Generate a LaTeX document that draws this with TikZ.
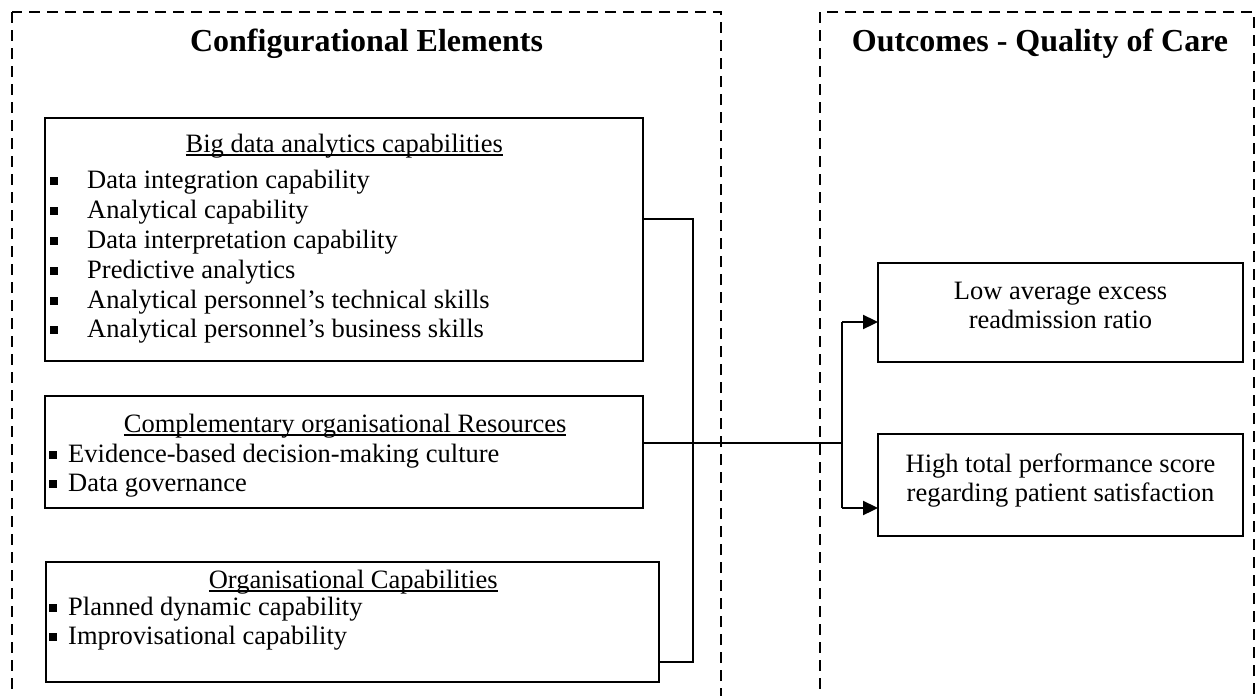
\documentclass[tikz,border=0pt]{standalone}
\usepackage{fontspec}
\setmainfont{Liberation Serif}
\usetikzlibrary{arrows.meta}

% underlined heading, bullet line
\newcommand{\uhd}[1]{\leavevmode\setbox0\hbox{#1}\rlap{\rule[-3.5pt]{\wd0}{1.6pt}}\box0}
\newcommand{\bul}[2]{\noindent\makebox[#1][l]{\rule[3.5pt]{8pt}{8pt}}#2\par}

\tikzset{
  dashbox/.style={draw, line width=2.6pt, dash pattern=on 11pt off 7pt},
  ebox/.style={draw, line width=2.5pt, inner sep=0pt, outer sep=0pt, anchor=north west},
  txt/.style={inner sep=0pt, font=\fontsize{26.5}{29}\selectfont},
  ttl/.style={inner sep=0pt, font=\fontsize{32}{36}\selectfont\bfseries},
  link/.style={line width=2.3pt},
  arr/.style={link, -{Triangle[length=15pt,width=14pt]}}
}

\begin{document}
\begin{tikzpicture}[x=1pt,y=-1pt]
\useasboundingbox (0,0) rectangle (1256,696);
\fill[white] (0,0) rectangle (1256,696);

% the two dashed frames, open below
\draw[dashbox] (12,12) rectangle (721,712);
\draw[dashbox] (820,12) rectangle (1254,712);

\node[ttl, anchor=base] (cfg) at (366.5,51) {Configurational Elements};
\node[ttl, anchor=base] (qoc) at (1040,51) {Outcomes - Quality of Care};

% boxes
\node[ebox, minimum width=598pt, minimum height=243pt] (bda) at (45,118) {};
\node[ebox, minimum width=598pt, minimum height=112pt] (cor) at (45,396) {};
\node[ebox, minimum width=613pt, minimum height=120pt] (org) at (46,562) {};
\node[ebox, minimum width=365pt, minimum height=99pt] (low) at (878,263) {};
\node[ebox, minimum width=365pt, minimum height=102pt] (high) at (878,434) {};

% box texts
\node[txt, anchor=base west] (bdaT) at (50,152) {\parbox[t]{588pt}{%
  \fontsize{26.5}{29.8}\selectfont
  {\centering\uhd{Big data analytics capabilities}\par}\vspace{7pt}
  \bul{37pt}{Data integration capability}
  \bul{37pt}{Analytical capability}
  \bul{37pt}{Data interpretation capability}
  \bul{37pt}{Predictive analytics}
  \bul{37pt}{Analytical personnel’s technical skills}
  \bul{37pt}{Analytical personnel’s business skills}}};
\node[txt, anchor=base west] (corT) at (49,432) {\parbox[t]{592pt}{%
  {\centering\uhd{Complementary organisational Resources}\par}\vspace{1pt}
  \bul{19pt}{Evidence-based decision-making culture}
  \bul{19pt}{Data governance}}};
\node[txt, anchor=base west] (orgT) at (49,588) {\parbox[t]{608pt}{%
  {\centering\uhd{Organisational Capabilities}\par}\vspace{-2pt}
  \bul{19pt}{Planned dynamic capability}
  \bul{19pt}{Improvisational capability}}};
\node[txt, anchor=base] (lowT) at (1060.5,299) {\parbox[t]{365pt}{\centering
  Low average excess\\readmission ratio}};
\node[txt, anchor=base] (highT) at (1060.5,472) {\parbox[t]{365pt}{\centering
  High total performance score\\regarding patient satisfaction}};

% connectors
\coordinate (lt) at (693,219);
\coordinate (lb) at (693,662);
\coordinate (jl) at (693,443);
\coordinate (jr) at (842,443);
\coordinate (rt) at (842,322);
\coordinate (rb) at (842,508);
\draw[link] (bda.east |- lt) -- (lt) -- (lb) -- (org.east |- lb);
\draw[link] (cor.east |- jl) -- (jr);
\draw[link] (rt) -- (rb);
\draw[arr] (rt) -- (low.west |- rt);
\draw[arr] (rb) -- (high.west |- rb);
\end{tikzpicture}
\end{document}
